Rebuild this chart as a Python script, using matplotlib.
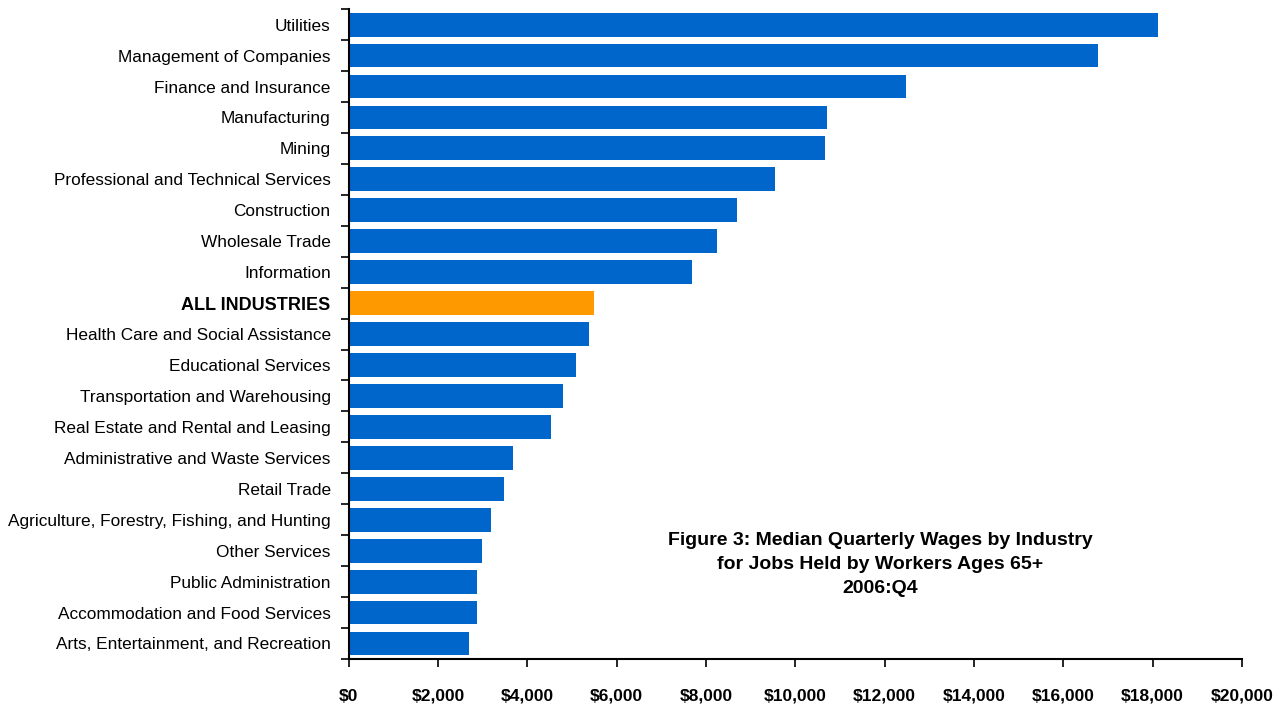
import matplotlib.pyplot as plt
import numpy as np
from matplotlib.ticker import FuncFormatter, FixedLocator

plt.rcParams['font.family'] = ['Liberation Sans', 'DejaVu Sans']

industries = [
    "Utilities", "Management of Companies", "Finance and Insurance",
    "Manufacturing", "Mining", "Professional and Technical Services",
    "Construction", "Wholesale Trade", "Information", "ALL INDUSTRIES",
    "Health Care and Social Assistance", "Educational Services",
    "Transportation and Warehousing", "Real Estate and Rental and Leasing",
    "Administrative and Waste Services", "Retail Trade",
    "Agriculture, Forestry, Fishing, and Hunting", "Other Services",
    "Public Administration", "Accommodation and Food Services",
    "Arts, Entertainment, and Recreation",
]
wages = [18130, 16770, 12490, 10710, 10670, 9550, 8700, 8250, 7690, 5490,
         5380, 5090, 4800, 4530, 3680, 3480, 3190, 2990, 2870, 2870, 2690]

colors = ['#FF9900' if n == "ALL INDUSTRIES" else '#0066CC' for n in industries]

fig = plt.figure(figsize=(12.85, 7.04), dpi=100)
ax = fig.add_axes([0.2714, 0.064, 0.695, 0.923])

y = np.arange(len(industries))
ax.barh(y, wages, height=0.77, color=colors)
ax.set_ylim(len(industries) - 0.5, -0.5)
ax.set_xlim(0, 20000)

ax.set_xticks(np.arange(0, 20001, 2000))
ax.xaxis.set_major_formatter(FuncFormatter(lambda v, p: f"${v:,.0f}"))
ax.tick_params(axis='x', labelsize=12.5, length=6, width=1.2, direction='out', pad=24)
for lab in ax.get_xticklabels():
    lab.set_fontweight('bold')
    lab.set_verticalalignment('baseline')

ax.set_yticks(y)
ax.set_yticklabels(industries, fontsize=12.4)
ax.yaxis.set_minor_locator(FixedLocator(np.arange(-0.5, len(industries), 1)))
ax.tick_params(axis='y', which='major', length=0, pad=13)
ax.tick_params(axis='y', which='minor', length=6, width=1.2, direction='out')
for lab in ax.get_yticklabels():
    if lab.get_text() == "ALL INDUSTRIES":
        lab.set_fontweight('bold')
        lab.set_fontsize(13)

for s in ['top', 'right']:
    ax.spines[s].set_visible(False)
for s in ['left', 'bottom']:
    ax.spines[s].set_linewidth(1.5)

fig.text(0.685, 0.198,
         "Figure 3: Median Quarterly Wages by Industry\nfor Jobs Held by Workers Ages 65+\n2006:Q4",
         ha='center', va='center', fontsize=14, fontweight='bold', linespacing=1.55)

fig.savefig('out.png', dpi=100)
